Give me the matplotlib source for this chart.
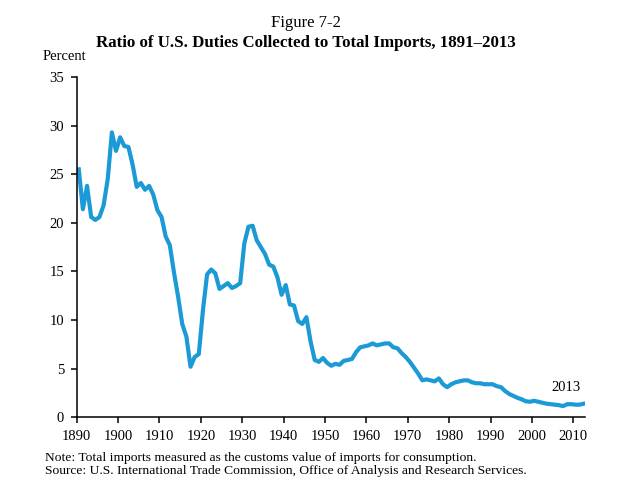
import matplotlib
matplotlib.use('Agg')
import matplotlib.pyplot as plt
import numpy as np

plt.rcParams['font.family'] = ['Liberation Serif', 'DejaVu Serif']

# Ratio of duties collected to total imports, percent
years = np.arange(1891, 2014)
ratio = [25.5, 21.4, 23.8, 20.6, 20.3, 20.6, 21.8, 24.5, 29.3, 27.4,
         28.8, 27.9, 27.8, 26.0, 23.7, 24.1, 23.4, 23.8, 22.9, 21.3,
         20.6, 18.6, 17.7, 14.9, 12.4, 9.6, 8.3, 5.2, 6.2, 6.5,
         11.0, 14.7, 15.2, 14.8, 13.2, 13.5, 13.8, 13.3, 13.5, 13.8,
         17.9, 19.6, 19.7, 18.2, 17.5, 16.8, 15.7, 15.5, 14.4, 12.6,
         13.6, 11.6, 11.5, 9.9, 9.6, 10.3, 7.8, 5.9, 5.7, 6.1,
         5.6, 5.3, 5.5, 5.4, 5.8, 5.9, 6.0, 6.7, 7.2, 7.3,
         7.4, 7.6, 7.4, 7.5, 7.6, 7.6, 7.2, 7.1, 6.6, 6.2,
         5.7, 5.1, 4.5, 3.8, 3.9, 3.8, 3.7, 4.0, 3.4, 3.1,
         3.4, 3.6, 3.7, 3.8, 3.8, 3.6, 3.5, 3.5, 3.4, 3.4,
         3.4, 3.2, 3.1, 2.7, 2.4, 2.2, 2.0, 1.85, 1.65, 1.6,
         1.7, 1.6, 1.5, 1.4, 1.35, 1.3, 1.25, 1.15, 1.35, 1.35,
         1.3, 1.3, 1.4]
decades = np.arange(1890, 2011, 10)
yticks = np.arange(0, 36, 5)

fig = plt.figure(figsize=(6.24, 4.83), dpi=100)
ax = fig.add_axes([0.1229, 0.136, 0.8146, 0.7046])

ax.plot(years, ratio, color='#1b9ad6', linewidth=3.0, solid_joinstyle='round')

# decade ticks sit half a year left of the data points, like the original
ax.set_xlim(1890.5, 2013.3)
ax.set_xticks(decades + 0.5)
ax.set_xticklabels([str(d) for d in decades])
ax.set_ylim(0, 35)
ax.set_yticks(yticks)

for side in ['top', 'right']:
    ax.spines[side].set_visible(False)
for side in ['left', 'bottom']:
    ax.spines[side].set_linewidth(1.1)
ax.tick_params(direction='out', length=4, width=1.1, labelsize=10.5, pad=5)

ax.text(2012.3, 3.1, '2013', ha='right', va='center', fontsize=10.5)

fig.text(0.49, 0.944, 'Figure 7-2', ha='center', va='baseline', fontsize=12)
fig.text(0.49, 0.903, 'Ratio of U.S. Duties Collected to Total Imports, 1891\u20132013',
         ha='center', va='baseline', fontsize=12.2, fontweight='bold')
fig.text(0.069, 0.876, 'Percent', ha='left', va='baseline', fontsize=10.5)
fig.text(0.072, 0.052, 'Note: Total imports measured as the customs value of imports for consumption.',
         ha='left', va='center', fontsize=9.7)
fig.text(0.072, 0.024, 'Source: U.S. International Trade Commission, Office of Analysis and Research Services.',
         ha='left', va='center', fontsize=9.7)

fig.savefig('out.png', dpi=100)
